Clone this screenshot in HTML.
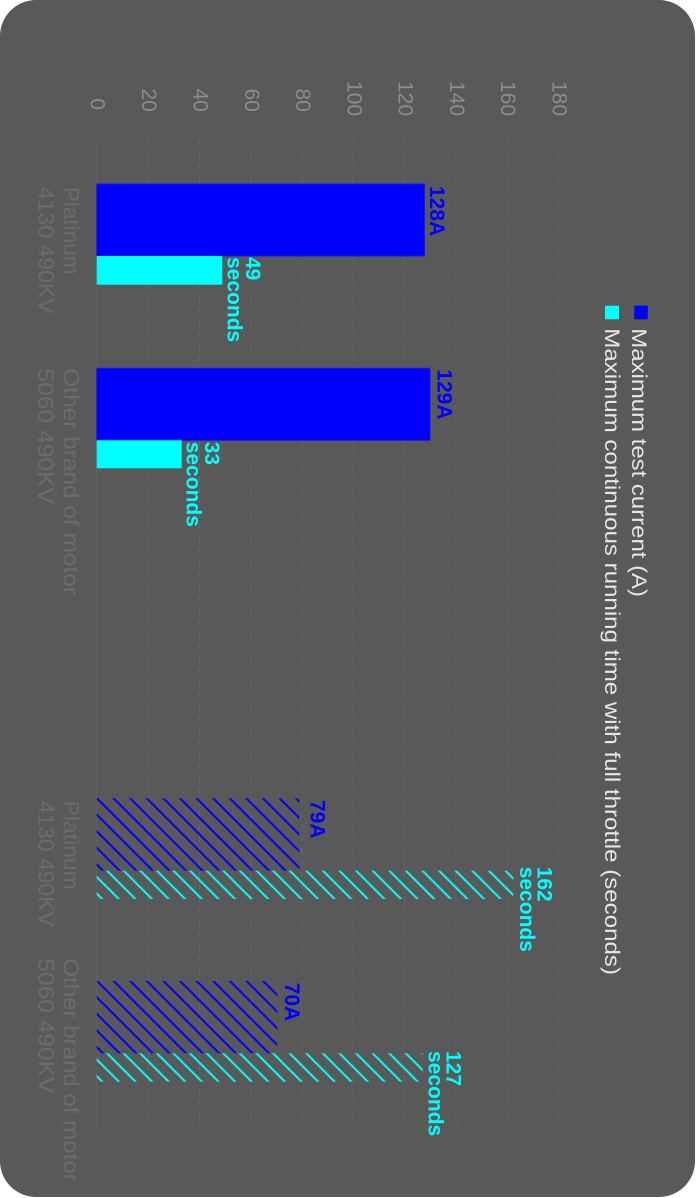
<!DOCTYPE html>
<html>
<head>
<meta charset="utf-8">
<style>
  html, body { margin:0; padding:0; background:#ffffff; }
  body { width:696px; height:1198px; overflow:hidden; }
  svg { display:block; }
  text { font-family: "Liberation Sans", "DejaVu Sans", sans-serif; }
</style>
</head>
<body>
<svg width="696" height="1198" viewBox="0 0 696 1198" xmlns="http://www.w3.org/2000/svg">
  <defs>
    <pattern id="hb" patternUnits="userSpaceOnUse" x="12.5" y="0" width="16.6" height="16.6">
      <path d="M-3,-3 L19.6,19.6 M12.6,-4 L20.6,4 M-4,12.6 L4,20.6" stroke="#0000ff" stroke-width="2" fill="none"/>
    </pattern>
    <pattern id="hc" patternUnits="userSpaceOnUse" x="0" y="0" width="16.6" height="16.6">
      <path d="M-3,-3 L19.6,19.6 M12.6,-4 L20.6,4 M-4,12.6 L4,20.6" stroke="#00ffff" stroke-width="2" fill="none"/>
    </pattern>
  </defs>

  <!-- card background -->
  <rect x="0" y="0" width="695" height="1197" rx="36" ry="36" fill="#595959"/>

  <!-- grid lines -->
  <g stroke="#666666" stroke-width="1" stroke-dasharray="6,6">
    <line x1="96.7" y1="140" x2="96.7" y2="1127" stroke-dasharray="none" stroke="#616161"/>
    <line x1="148.2" y1="140" x2="148.2" y2="1127"/>
    <line x1="199.5" y1="140" x2="199.5" y2="1127"/>
    <line x1="250.8" y1="140" x2="250.8" y2="1127"/>
    <line x1="302.1" y1="140" x2="302.1" y2="1127"/>
    <line x1="353.3" y1="140" x2="353.3" y2="1127"/>
    <line x1="404.6" y1="140" x2="404.6" y2="1127"/>
    <line x1="455.9" y1="140" x2="455.9" y2="1127"/>
    <line x1="507.2" y1="140" x2="507.2" y2="1127"/>
    <line x1="558.4" y1="140" x2="558.4" y2="1127"/>
  </g>

  <!-- tick labels -->
  <g fill="#8c8c8c" font-size="21">
    <text transform="translate(90.7,98.3) rotate(90)">0</text>
    <text transform="translate(142.2,88.5) rotate(90)">20</text>
    <text transform="translate(193.5,88.5) rotate(90)">40</text>
    <text transform="translate(244.8,88.5) rotate(90)">60</text>
    <text transform="translate(296.1,88.5) rotate(90)">80</text>
    <text transform="translate(347.3,81) rotate(90)">100</text>
    <text transform="translate(398.6,81) rotate(90)">120</text>
    <text transform="translate(449.9,81) rotate(90)">140</text>
    <text transform="translate(501.2,81) rotate(90)">160</text>
    <text transform="translate(552.7,81) rotate(90)">180</text>
  </g>

  <!-- solid bars -->
  <rect x="96.7" y="184" width="327.8" height="72" fill="#0000ff" stroke="#1a1ad8" stroke-width="1"/>
  <rect x="96.7" y="256" width="125.6" height="28.7" fill="#00ffff"/>
  <rect x="96.7" y="368.3" width="333.3" height="72" fill="#0000ff" stroke="#1a1ad8" stroke-width="1"/>
  <rect x="96.7" y="440.3" width="85" height="28" fill="#00ffff"/>

  <!-- hatched bars -->
  <rect x="96.7" y="798.3" width="202.6" height="72.4" fill="url(#hb)"/>
  <rect x="96.7" y="870.7" width="416.6" height="28.3" fill="url(#hc)"/>
  <rect x="96.7" y="981" width="180.6" height="72.3" fill="url(#hb)"/>
  <rect x="96.7" y="1053.3" width="326" height="28.4" fill="url(#hc)"/>

  <!-- value labels -->
  <g font-size="21" font-weight="bold">
    <text fill="#0000ff" transform="translate(430,186) rotate(90)">128A</text>
    <text fill="#00ffff" transform="translate(246,257) rotate(90)">49</text>
    <text fill="#00ffff" transform="translate(227.7,257) rotate(90)">seconds</text>
    <text fill="#0000ff" transform="translate(437.3,369.3) rotate(90)">129A</text>
    <text fill="#00ffff" transform="translate(205,441.7) rotate(90)">33</text>
    <text fill="#00ffff" transform="translate(186.7,441.7) rotate(90)">seconds</text>
    <text fill="#0000ff" transform="translate(310.7,800) rotate(90)">79A</text>
    <text fill="#00ffff" transform="translate(537.3,866.7) rotate(90)">162</text>
    <text fill="#00ffff" transform="translate(520,866.7) rotate(90)">seconds</text>
    <text fill="#0000ff" transform="translate(285,982.7) rotate(90)">70A</text>
    <text fill="#00ffff" transform="translate(446.7,1051) rotate(90)">127</text>
    <text fill="#00ffff" transform="translate(428.3,1051) rotate(90)">seconds</text>
  </g>

  <!-- category labels -->
  <g fill="#6c6c6c" font-size="22">
    <text transform="translate(63.3,186.7) rotate(90)" textLength="88" lengthAdjust="spacingAndGlyphs">Platinum</text>
    <text transform="translate(38.3,186.7) rotate(90)" textLength="127" lengthAdjust="spacingAndGlyphs">4130 490KV</text>
    <text transform="translate(63.3,368.3) rotate(90)" textLength="226.7" lengthAdjust="spacingAndGlyphs">Other brand of motor</text>
    <text transform="translate(37.8,368.3) rotate(90)" textLength="135.7" lengthAdjust="spacingAndGlyphs">5060 490KV</text>
    <text transform="translate(63.3,800.7) rotate(90)" textLength="89" lengthAdjust="spacingAndGlyphs">Platinum</text>
    <text transform="translate(38.3,800.7) rotate(90)" textLength="126" lengthAdjust="spacingAndGlyphs">4130 490KV</text>
    <text transform="translate(63.3,958.3) rotate(90)" textLength="223.4" lengthAdjust="spacingAndGlyphs">Other brand of motor</text>
    <text transform="translate(38.3,958.3) rotate(90)" textLength="135" lengthAdjust="spacingAndGlyphs">5060 490KV</text>
  </g>

  <!-- legend -->
  <rect x="634.3" y="305.7" width="13.4" height="13.6" fill="#0000ff"/>
  <rect x="605" y="305.7" width="14" height="13.6" fill="#00ffff"/>
  <g fill="#e6e6e6" font-size="21">
    <text transform="translate(632,328.3) rotate(90)" textLength="268.7" lengthAdjust="spacingAndGlyphs">Maximum test current (A)</text>
    <text transform="translate(605,328.3) rotate(90)" textLength="646.7" lengthAdjust="spacingAndGlyphs">Maximum continuous running time with full throttle (seconds)</text>
  </g>
</svg>
</body>
</html>
